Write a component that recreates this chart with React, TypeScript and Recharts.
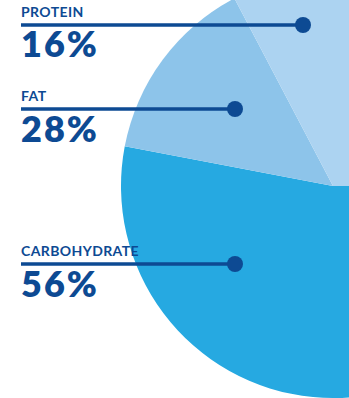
import React from 'react';
import { PieChart, Pie, Cell } from 'recharts';

// Nutrient categories in drawing order (clockwise from 3 o'clock)
const categories = ['CARBOHYDRATE', 'FAT', 'PROTEIN'];
// Percent figures printed in the labels
const labelPercents = [56, 28, 16];
// Shares of the circle as drawn
const sliceShares = [53, 14.3, 32.7];

const sliceColors = ['#26a9e1', '#8dc4ea', '#acd3f1'];
const NAVY = '#0d4a93';

// Annotation layout per category (relative to the pie centre for dots)
const annotationLayout = [
  { nameY: 256, lineY: 264, dotDx: -98, pctY: 297 },
  { nameY: 101, lineY: 109, dotDx: -98, pctY: 142 },
  { nameY: 17, lineY: 25, dotDx: -30, pctY: 57 },
];
const LEFT_X = 21;

const data = categories.map((name, i) => ({
  name,
  share: sliceShares[i],
  pct: labelPercents[i],
}));

const renderLabel = (props: any) => {
  const { index, cx } = props;
  const lay = annotationLayout[index];
  const d = data[index];
  const dotX = cx + lay.dotDx;
  return (
    <g key={`lab-${index}`}>
      <text
        x={LEFT_X}
        y={lay.nameY}
        fill={NAVY}
        fontFamily="Lato, 'Open Sans', sans-serif"
        fontWeight={700}
        fontSize={14}
        letterSpacing={0.4}
        textAnchor="start"
      >
        {d.name}
      </text>
      <line x1={LEFT_X} y1={lay.lineY} x2={dotX} y2={lay.lineY} stroke={NAVY} strokeWidth={3.5} />
      <circle cx={dotX} cy={lay.lineY} r={8} fill={NAVY} />
      <text
        x={LEFT_X}
        y={lay.pctY}
        fill={NAVY}
        fontFamily="Lato, 'Open Sans', sans-serif"
        fontWeight={800}
        fontSize={36}
        letterSpacing={2}
        textAnchor="start"
      >
        {`${d.pct}%`}
      </text>
    </g>
  );
};

export default function App() {
  return (
    <div style={{ position: 'absolute', left: 0, top: 0, width: 349, height: 398, background: '#fff' }}>
      <PieChart width={349} height={398} margin={{ top: 0, right: 0, bottom: 0, left: 0 }}>
        <Pie
          data={data}
          dataKey="share"
          nameKey="name"
          cx={333}
          cy={186}
          outerRadius={212}
          innerRadius={0}
          startAngle={0}
          endAngle={-360}
          stroke="none"
          isAnimationActive={false}
          label={renderLabel}
          labelLine={false}
        >
          {data.map((d, i) => (
            <Cell key={d.name} fill={sliceColors[i]} stroke="none" />
          ))}
        </Pie>
      </PieChart>
    </div>
  );
}
